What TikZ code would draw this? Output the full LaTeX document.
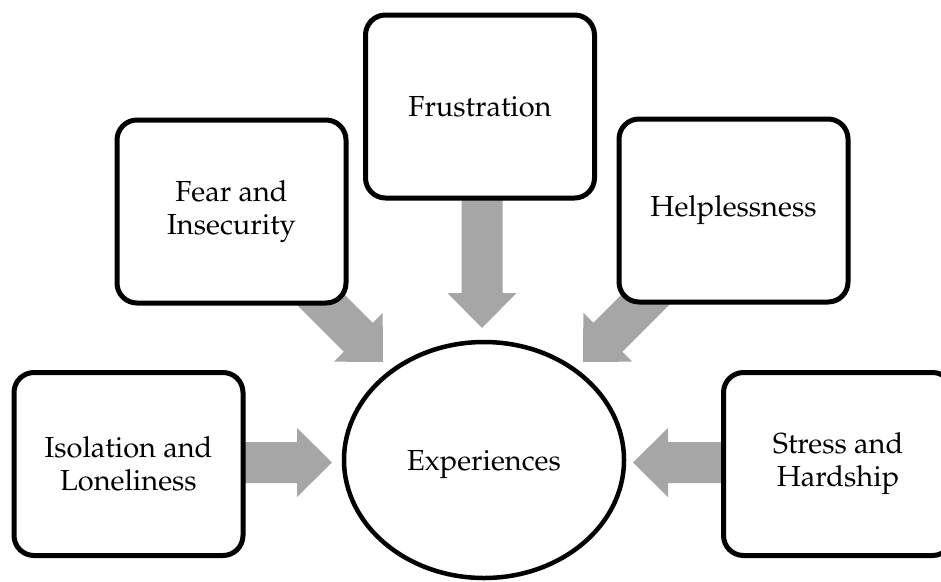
\documentclass[tikz,border=0pt]{standalone}
\usepackage[T1]{fontenc}
\usepackage{mathpazo}
\usetikzlibrary{shapes.geometric}
\definecolor{arrowgray}{RGB}{166,166,166}
\tikzset{
  box/.style={draw=black, line width=5pt, rounded corners=20pt, fill=white,
    minimum width=229pt, minimum height=183pt, align=center, inner sep=0pt,
    font=\fontsize{29}{33}\selectfont},
  oval/.style={draw=black, ellipse, line width=4.5pt, minimum width=280pt,
    minimum height=236pt, inner sep=0pt, text depth=0pt,
    font=\fontsize{29}{33}\selectfont},
  blockarrow/.style={fill=arrowgray},
}
% #1 tip coordinate, #2 direction angle, #3 total length
\newcommand\barrow[3]{%
  \fill[blockarrow, shift={(#1)}, rotate=#2] (0,0) -- (-35,34.5) -- (-35,20.5)
    -- (-#3,20.5) -- (-#3,-20.5) -- (-35,-20.5) -- (-35,-34.5) -- cycle;}
\begin{document}
\begin{tikzpicture}[x=1pt,y=-1pt]
\useasboundingbox (0,0) rectangle (941,581);
\clip (0,0) rectangle (941,581);
\fill[white] (0,0) rectangle (941,581);
% arrow tips
\coordinate (tIso) at (332,462.5);
\coordinate (tFear) at (383,362);
\coordinate (tFru) at (482,328);
\coordinate (tHelp) at (583,362);
\coordinate (tStr) at (633,462.5);
\barrow{tIso}{0}{100}
\barrow{tFear}{-45}{120}
\barrow{tFru}{-90}{140}
\barrow{tHelp}{-135}{120}
\barrow{tStr}{180}{100}
% boxes
\node[box] (iso) at (128.5,464) {Isolation and\\Loneliness};
\node[box] (fear) at (231.5,211.5) {Fear and\\Insecurity};
\node[box] (fru) at (480,106.5) {Frustration};
\node[box] (help) at (733.5,210.5) {Helplessness};
\node[box] (str) at (838,464) {Stress and\\Hardship};
\node[oval] (exp) at (484,460) {Experiences};
\end{tikzpicture}
\end{document}
